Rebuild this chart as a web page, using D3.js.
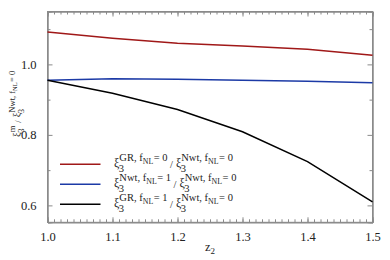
<!DOCTYPE html>
<html>
<head>
<meta charset="utf-8">
<script src="https://cdn.jsdelivr.net/npm/d3@7"></script>
<style>
  body { margin: 0; background: #fff; }
</style>
</head>
<body>
<div id="chart"></div>
<script>
(function(){
  // data
  var z2 = [1.0, 1.1, 1.2, 1.3, 1.4, 1.5];
  var grF0 = [1.092, 1.074, 1.060, 1.052, 1.043, 1.026];
  var nwtF1 = [0.955, 0.959, 0.958, 0.955, 0.952, 0.948];
  var grF1 = [0.955, 0.918, 0.872, 0.809, 0.724, 0.610];
  var xTicks = [1.0, 1.1, 1.2, 1.3, 1.4, 1.5];
  var yTicks = [0.6, 0.8, 1.0];

  var series = [
    {vals: grF0, color: "#a01818", sup1: ["GR, f", "NL", "= 0"]},
    {vals: nwtF1, color: "#1c3aa6", sup1: ["Nwt, f", "NL", "= 1"]},
    {vals: grF1, color: "#000000", sup1: ["GR, f", "NL", "= 1"]}
  ];

  var FONT = "Liberation Serif";
  var W = 390, H = 260;
  var margin = {top: 11.5, right: 17.5, bottom: 37.7, left: 47.5};
  var width = W - margin.left - margin.right,
      height = H - margin.top - margin.bottom;

  var svg = d3.select("#chart").append("svg")
    .attr("width", W).attr("height", H)
    .attr("font-family", FONT);
  var g = svg.append("g")
    .attr("transform", "translate(" + margin.left + "," + margin.top + ")");

  var x = d3.scaleLinear().domain([1.0, 1.5]).range([0, width]);
  var y = d3.scaleLinear().domain([0.552, 1.15]).range([height, 0]);

  var frameCol = "#8a8a8a";

  // minor ticks
  var xMinor = d3.range(0, 51).map(function(i){ return 1.0 + i * 0.01; });
  var yMinor = [0.7, 0.9, 1.1];

  function axisStyle(sel) {
    sel.attr("font-family", FONT).attr("font-size", 12.5);
    sel.select(".domain").attr("stroke", frameCol);
    sel.selectAll(".tick line").attr("stroke", frameCol);
    sel.selectAll(".tick text").attr("fill", "#222");
  }

  // bottom
  g.append("g").attr("transform", "translate(0," + height + ")")
    .call(d3.axisBottom(x).tickValues(xMinor).tickSize(-3).tickFormat(""))
    .call(axisStyle);
  g.append("g").attr("transform", "translate(0," + height + ")")
    .call(d3.axisBottom(x).tickValues(xTicks).tickSize(-5).tickPadding(10).tickFormat(d3.format(".1f")))
    .call(axisStyle);
  // top
  g.append("g")
    .call(d3.axisTop(x).tickValues(xMinor).tickSize(-3).tickFormat(""))
    .call(axisStyle);
  g.append("g")
    .call(d3.axisTop(x).tickValues(xTicks).tickSize(-5).tickFormat(""))
    .call(axisStyle);
  // left
  g.append("g")
    .call(d3.axisLeft(y).tickValues(yTicks).tickSize(-5).tickPadding(11).tickFormat(d3.format(".1f")))
    .call(axisStyle);
  g.append("g")
    .call(d3.axisLeft(y).tickValues(yMinor).tickSize(-3).tickFormat(""))
    .call(axisStyle);
  // right
  g.append("g").attr("transform", "translate(" + width + ",0)")
    .call(d3.axisRight(y).tickValues(yTicks).tickSize(-5).tickFormat(""))
    .call(axisStyle);
  g.append("g").attr("transform", "translate(" + width + ",0)")
    .call(d3.axisRight(y).tickValues(yMinor).tickSize(-3).tickFormat(""))
    .call(axisStyle);

  g.append("rect").attr("x", 0).attr("y", 0).attr("width", width).attr("height", height)
    .attr("fill", "none").attr("stroke", frameCol);

  var line = d3.line()
    .x(function(d, i){ return x(z2[i]); })
    .y(function(d){ return y(d); });

  series.forEach(function(s){
    g.append("path").datum(s.vals)
      .attr("d", line)
      .attr("fill", "none")
      .attr("stroke", s.color)
      .attr("stroke-width", 1.5);
  });

  // xi with stacked sub "3" and a superscript
  function xi(parent, px, py, sup, big, small) {
    var t = parent.append("text").attr("x", px).attr("y", py)
      .attr("font-size", big).attr("fill", "#222").text("ξ");
    var w = t.node().getComputedTextLength();
    var sb = parent.append("text").attr("x", px + w - 0.5).attr("y", py + big * 0.36)
      .attr("font-size", small).attr("fill", "#222").text("3");
    var sp = parent.append("text").attr("x", px + w).attr("y", py - big * 0.5)
      .attr("font-size", small).attr("fill", "#222");
    sp.append("tspan").text(sup[0]);
    if (sup.length > 1) {
      sp.append("tspan").attr("dy", small * 0.3).attr("font-size", small * 0.75).text(sup[1]);
      sp.append("tspan").attr("dy", -small * 0.3).attr("dx", 0.5).text(sup[2]);
    }
    var w2 = Math.max(sb.node().getComputedTextLength(), sp.node().getComputedTextLength());
    return px + w + w2;
  }

  function ratio(parent, px, py, sup1, sup2, big, small) {
    var nx = xi(parent, px, py, sup1, big, small);
    var sl = parent.append("text").attr("x", nx + 3).attr("y", py + 1)
      .attr("font-size", small).attr("fill", "#222").text("/");
    nx = nx + 3 + sl.node().getComputedTextLength() + 3;
    return xi(parent, nx, py, sup2, big, small);
  }

  // legend
  var legY = [164.3, 184.3, 204.3];
  series.forEach(function(s, i){
    svg.append("line")
      .attr("x1", 60).attr("x2", 100.5)
      .attr("y1", legY[i]).attr("y2", legY[i])
      .attr("stroke", s.color).attr("stroke-width", 1.5);
    ratio(svg, 114, legY[i] + 3, s.sup1, ["Nwt, f", "NL", "= 0"], 12, 10.5);
  });

  // y label
  var yl = svg.append("g").attr("transform", "translate(20,137) rotate(-90)");
  ratio(yl, 0, 0, ["m"], ["Nwt, f", "NL", "= 0"], 10.5, 8.5);

  // x label
  var xl = svg.append("text").attr("x", 205).attr("y", 251)
    .attr("font-size", 12.5).attr("fill", "#222");
  xl.append("tspan").text("z");
  xl.append("tspan").attr("dy", 3).attr("font-size", 9).text("2");
})();
</script>
</body>
</html>
